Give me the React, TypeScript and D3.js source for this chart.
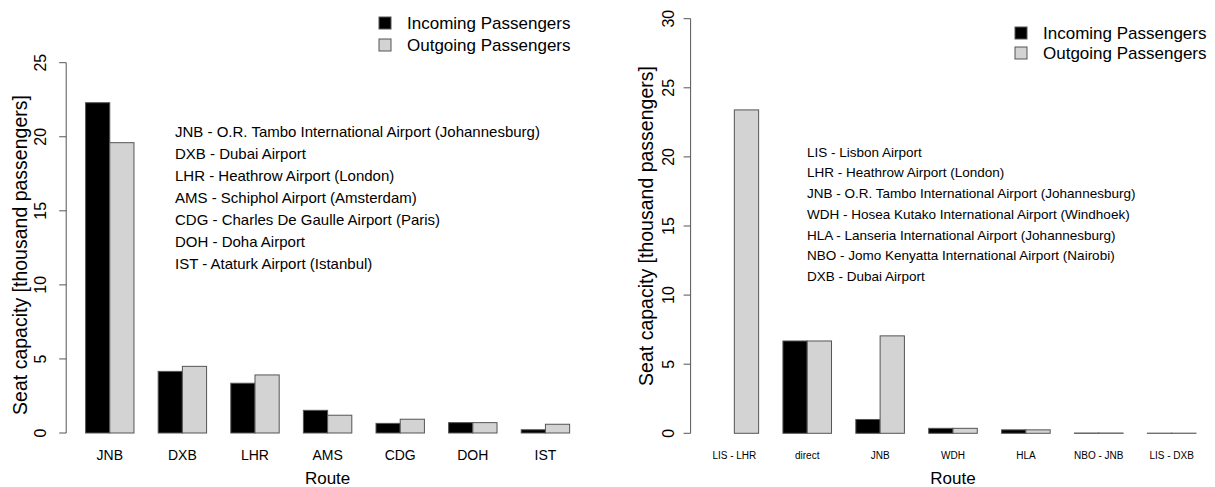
import React, { useRef, useEffect } from "react";
import * as d3 from "d3";

const leftRoutes = ["JNB", "DXB", "LHR", "AMS", "CDG", "DOH", "IST"];
const leftIncoming = [22.3, 4.16, 3.36, 1.53, 0.65, 0.7, 0.22];
const leftOutgoing = [19.6, 4.5, 3.92, 1.2, 0.93, 0.7, 0.59];
const leftTicks = [0, 5, 10, 15, 20, 25];
const leftNotes = [
  "JNB - O.R. Tambo International Airport (Johannesburg)",
  "DXB - Dubai Airport",
  "LHR - Heathrow Airport (London)",
  "AMS - Schiphol Airport (Amsterdam)",
  "CDG - Charles De Gaulle Airport (Paris)",
  "DOH - Doha Airport",
  "IST - Ataturk Airport (Istanbul)",
];

const rightRoutes = ["LIS - LHR", "direct", "JNB", "WDH", "HLA", "NBO - JNB", "LIS - DXB"];
const rightIncoming = [0, 6.68, 1.0, 0.36, 0.25, 0.02, 0.01];
const rightOutgoing = [23.4, 6.68, 7.05, 0.36, 0.25, 0.02, 0.01];
const rightTicks = [0, 5, 10, 15, 20, 25, 30];
const rightNotes = [
  "LIS - Lisbon Airport",
  "LHR - Heathrow Airport (London)",
  "JNB - O.R. Tambo International Airport (Johannesburg)",
  "WDH - Hosea Kutako International Airport (Windhoek)",
  "HLA - Lanseria International Airport (Johannesburg)",
  "NBO - Jomo Kenyatta International Airport (Nairobi)",
  "DXB - Dubai Airport",
];

const legendLabels = ["Incoming Passengers", "Outgoing Passengers"];
const colors = ["#000000", "#d3d3d3"];
const font = "'Liberation Sans', Arial, sans-serif";

interface PanelCfg {
  routes: string[];
  incoming: number[];
  outgoing: number[];
  ticks: number[];
  notes: string[];
  xRange: [number, number];
  yRange: [number, number];
  yMax: number;
  tickLabelX: number;
  yLabelX: number;
  yLabelY: number;
  routeFont: number;
  noteX: number;
  noteY: number;
  noteStep: number;
  noteFont: number;
  legendX: number;
  legendY: number;
  legendStep: number;
}

const panels: PanelCfg[] = [
  {
    routes: leftRoutes,
    incoming: leftIncoming,
    outgoing: leftOutgoing,
    ticks: leftTicks,
    notes: leftNotes,
    xRange: [66.2, 589],
    yRange: [433, 62.7],
    yMax: 25,
    tickLabelX: 40,
    yLabelX: 20,
    yLabelY: 255,
    routeFont: 14,
    noteX: 175,
    noteY: 132,
    noteStep: 22,
    noteFont: 15,
    legendX: 379,
    legendY: 23,
    legendStep: 22,
  },
  {
    routes: rightRoutes,
    incoming: rightIncoming,
    outgoing: rightOutgoing,
    ticks: rightTicks,
    notes: rightNotes,
    xRange: [690.6, 1215.4],
    yRange: [433.3, 18.7],
    yMax: 30,
    tickLabelX: 668,
    yLabelX: 646,
    yLabelY: 226,
    routeFont: 10,
    noteX: 807,
    noteY: 152,
    noteStep: 20.7,
    noteFont: 13.5,
    legendX: 1015,
    legendY: 33,
    legendStep: 20,
  },
];

const App: React.FC = () => {
  const svgRef = useRef<SVGSVGElement>(null);

  useEffect(() => {
    if (!svgRef.current) return;
    const svg = d3.select(svgRef.current);
    svg.selectAll("*").remove();

    panels.forEach((p) => {
      const g = svg.append("g");
      // bar units like R barplot: groups of 2 bars, 1 bar of space between
      const x = d3.scaleLinear().domain([0.2, 21.8]).range(p.xRange);
      const y = d3.scaleLinear().domain([0, p.yMax]).range(p.yRange);
      const axisX = p.xRange[0];

      // y axis
      g.append("line")
        .attr("x1", axisX)
        .attr("x2", axisX)
        .attr("y1", y(0))
        .attr("y2", y(p.yMax))
        .attr("stroke", "#555")
        .attr("stroke-width", 1);
      p.ticks.forEach((t) => {
        g.append("line")
          .attr("x1", axisX - 7)
          .attr("x2", axisX)
          .attr("y1", y(t))
          .attr("y2", y(t))
          .attr("stroke", "#555");
        g.append("text")
          .attr("transform", `translate(${p.tickLabelX},${y(t)}) rotate(-90)`)
          .attr("text-anchor", "middle")
          .attr("dy", "0.35em")
          .attr("font-size", 16)
          .attr("font-family", font)
          .attr("fill", "#000")
          .text(t);
      });

      g.append("text")
        .attr("transform", `translate(${p.yLabelX},${p.yLabelY}) rotate(-90)`)
        .attr("text-anchor", "middle")
        .attr("dy", "0.35em")
        .attr("font-size", 19.5)
        .attr("font-family", font)
        .text("Seat capacity [thousand passengers]");

      // bars
      const series = [p.incoming, p.outgoing];
      series.forEach((vals, s) => {
        g.selectAll(`.bar${s}`)
          .data(vals)
          .enter()
          .append("rect")
          .attr("x", (_, i) => x(1 + 3 * i + s))
          .attr("width", x(2) - x(1))
          .attr("y", (d) => y(d))
          .attr("height", (d) => y(0) - y(d))
          .attr("fill", colors[s])
          .attr("stroke", "#555")
          .attr("stroke-width", 1);
      });

      // category labels
      g.selectAll(".cat")
        .data(p.routes)
        .enter()
        .append("text")
        .attr("x", (_, i) => x(2 + 3 * i))
        .attr("y", 455)
        .attr("dy", "0.35em")
        .attr("text-anchor", "middle")
        .attr("font-size", p.routeFont)
        .attr("font-family", font)
        .text((d) => d);

      g.append("text")
        .attr("x", (p.xRange[0] + p.xRange[1]) / 2)
        .attr("y", 478)
        .attr("dy", "0.35em")
        .attr("text-anchor", "middle")
        .attr("font-size", 17)
        .attr("font-family", font)
        .text("Route");

      // airport notes
      p.notes.forEach((n, i) => {
        g.append("text")
          .attr("x", p.noteX)
          .attr("y", p.noteY + i * p.noteStep)
          .attr("dy", "0.35em")
          .attr("font-size", p.noteFont)
          .attr("font-family", font)
          .text(n);
      });

      // legend
      legendLabels.forEach((lab, i) => {
        const ly = p.legendY + i * p.legendStep;
        g.append("rect")
          .attr("x", p.legendX)
          .attr("y", ly - 6)
          .attr("width", 12)
          .attr("height", 12)
          .attr("fill", colors[i])
          .attr("stroke", "#555");
        g.append("text")
          .attr("x", p.legendX + 28)
          .attr("y", ly)
          .attr("dy", "0.35em")
          .attr("font-size", 17)
          .attr("font-family", font)
          .text(lab);
      });
    });
  }, []);

  return (
    <>
      <style>{`body{margin:0;background:#fff}`}</style>
      <svg ref={svgRef} width={1215} height={487}></svg>
    </>
  );
};

export default App;
